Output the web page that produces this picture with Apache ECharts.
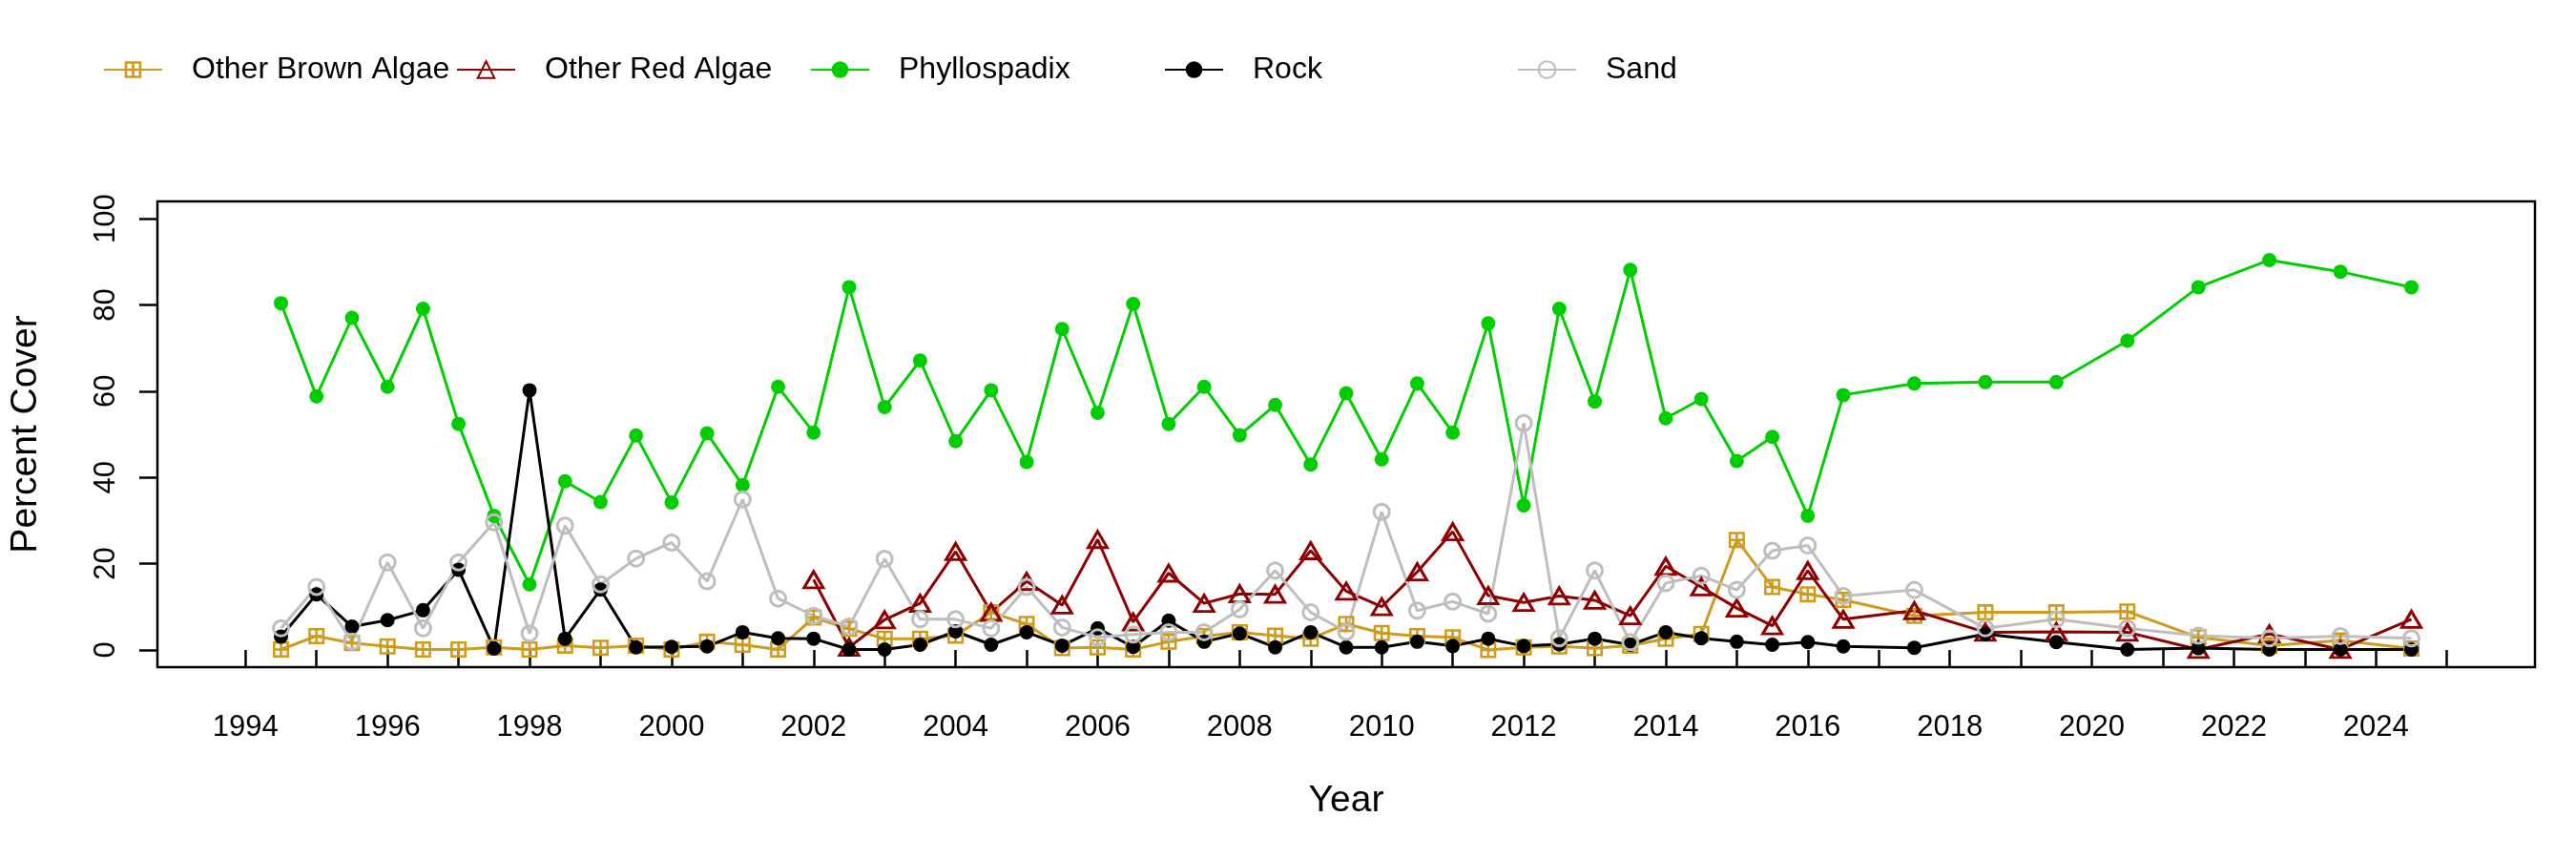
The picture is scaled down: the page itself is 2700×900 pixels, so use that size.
<!DOCTYPE html>
<html>
<head>
<meta charset="utf-8">
<script src="https://cdn.jsdelivr.net/npm/echarts@6/dist/echarts.min.js"></script>
<style>
  html, body { margin: 0; padding: 0; background: #fff; }
  #chart { width: 2700px; height: 900px; }
</style>
</head>
<body>
<div id="chart"></div>
<script>
// survey years (half-yearly to 2016.5, then yearly)
const years = [1994.5, 1995, 1995.5, 1996, 1996.5, 1997, 1997.5, 1998, 1998.5, 1999, 1999.5,
  2000, 2000.5, 2001, 2001.5, 2002, 2002.5, 2003, 2003.5, 2004, 2004.5, 2005, 2005.5, 2006, 2006.5,
  2007, 2007.5, 2008, 2008.5, 2009, 2009.5, 2010, 2010.5, 2011, 2011.5, 2012, 2012.5, 2013,
  2013.5, 2014, 2014.5, 2015, 2015.5, 2016, 2016.5, 2017.5, 2018.5, 2019.5, 2020.5, 2021.5, 2022.5, 2023.5, 2024.5];

const brownAlgae = [0.1, 3.2, 1.6, 0.8, 0.1, 0.1, 0.6, 0.1, 1.0, 0.5, 1.0,
  0.1, 1.9, 1.2, 0.1, 7.5, 4.9, 2.6, 2.6, 3.3, 8.7, 6.0, 0.4, 0.6, 0.1,
  1.9, 3.2, 4.1, 3.3, 2.6, 6.0, 3.9, 3.2, 2.9, 0.0, 0.6, 0.8, 0.4,
  1.0, 2.6, 3.7, 25.5, 14.6, 12.9, 11.6, 7.9, 8.7, 8.7, 8.9, 2.9, 1.0, 2.2, 0.3];

const redAlgae = [null, null, null, null, null, null, null, null, null, null, null,
  null, null, null, null, 16.3, 0.6, 7.0, 10.8, 22.8, 8.7, 15.9, 10.4, 25.6, 6.5,
  17.8, 10.8, 13.0, 12.9, 23.0, 13.6, 10.0, 18.1, 27.4, 12.6, 11.0, 12.5, 11.5,
  7.9, 19.4, 14.6, 9.7, 5.6, 18.4, 7.1, 9.1, 4.1, 4.2, 4.1, 0.1, 3.7, 0.1, 7.1];

const phyllospadix = [80.4, 58.8, 77.0, 61.0, 79.1, 52.4, 31.1, 15.2, 39.1, 34.3, 49.7,
  34.2, 50.2, 38.2, 61.0, 50.4, 84.1, 56.3, 67.1, 48.4, 60.2, 43.6, 74.4, 55.0, 80.2,
  52.4, 61.0, 49.8, 56.8, 43.0, 59.5, 44.2, 61.8, 50.4, 75.7, 33.5, 79.1, 57.6,
  88.1, 53.7, 58.2, 43.8, 49.4, 31.1, 59.1, 61.8, 62.1, 62.1, 71.7, 84.1, 90.4, 87.7, 84.1];

const rock = [3.1, 12.9, 5.4, 6.9, 9.2, 18.6, 0.3, 60.2, 2.6, 14.0, 0.6,
  0.7, 0.8, 4.1, 2.7, 2.6, 0.1, 0.1, 1.2, 4.3, 1.2, 4.1, 1.0, 5.0, 0.7,
  6.8, 1.9, 3.8, 0.6, 4.1, 0.6, 0.6, 1.9, 0.9, 2.6, 0.9, 1.3, 2.6,
  1.2, 4.1, 2.7, 1.9, 1.2, 1.8, 0.8, 0.5, 3.7, 1.8, 0.1, 0.4, 0.1, 0.1, 0.1];

const sand = [5.0, 14.6, 1.9, 20.3, 5.0, 20.3, 29.6, 3.8, 28.8, 15.2, 21.2,
  24.9, 15.9, 34.9, 11.9, 7.9, 5.4, 21.1, 7.1, 7.1, 5.0, 14.6, 5.2, 2.9, 3.6,
  4.1, 4.1, 9.4, 18.4, 8.7, 4.2, 32.0, 9.1, 11.2, 8.4, 52.6, 2.7, 18.4,
  1.8, 15.5, 17.2, 13.9, 23.0, 24.2, 12.5, 13.9, 5.0, 7.1, 5.0, 3.3, 2.7, 3.2, 2.7];

// axis ticks / labels
const xTicks = [1994, 1995, 1996, 1997, 1998, 1999, 2000, 2001, 2002, 2003, 2004, 2005, 2006, 2007, 2008, 2009,
  2010, 2011, 2012, 2013, 2014, 2015, 2016, 2017, 2018, 2019, 2020, 2021, 2022, 2023, 2024, 2025];
const xLabels = [1994, 1996, 1998, 2000, 2002, 2004, 2006, 2008, 2010, 2012, 2014, 2016, 2018, 2020, 2022, 2024];
const yTicks = [0, 20, 40, 60, 80, 100];

const FONT = "'Liberation Sans', Arial, sans-serif";
// square with a plus inside (R pch 12)
const squarePlus = "path://M0,0H20V3H0Z M0,17H20V20H0Z M0,0H3V20H0Z M17,0H20V20H17Z M8.5,0H11.5V20H8.5Z M0,8.5H20V11.5H0Z";

function pairs(vals) {
  const out = [];
  years.forEach((y, i) => {
    if (vals[i] !== null) out.push([y, vals[i]]);
  });
  return out;
}

const chart = echarts.init(document.getElementById("chart"));

const names = ["Other Brown Algae", "Other Red Algae", "Phyllospadix", "Rock", "Sand"];
const legendLeft = [108, 478, 849, 1220, 1590];

const option = {
  animation: false,
  backgroundColor: "#fff",
  textStyle: { fontFamily: FONT },
  legend: names.map((n, i) => ({
    data: [n],
    left: legendLeft[i],
    top: 57,
    padding: 0,
    itemWidth: 61,
    itemHeight: 22,
    selectedMode: false,
    textStyle: { fontSize: 32, color: "#000", fontFamily: FONT, padding: [0, 0, 0, 26] }
  })),
  grid: {
    left: 162, right: 43, top: 211, bottom: 201,
    show: true, borderColor: "#000", borderWidth: 2.5, backgroundColor: "transparent"
  },
  xAxis: {
    type: "value",
    min: 1992.76,
    max: 2026.24,
    name: "Year",
    nameLocation: "middle",
    nameGap: 121,
    nameTextStyle: { fontSize: 39, color: "#000", fontFamily: FONT },
    axisLine: { show: false },
    splitLine: { show: false },
    axisTick: { show: true, length: 19, customValues: xTicks, lineStyle: { color: "#000", width: 2.5 } },
    axisLabel: {
      customValues: xLabels, fontSize: 31, color: "#000", margin: 48, fontFamily: FONT,
      formatter: v => String(v)
    }
  },
  yAxis: {
    type: "value",
    min: -4,
    max: 104,
    name: "Percent Cover",
    nameLocation: "middle",
    nameGap: 118,
    nameTextStyle: { fontSize: 39, color: "#000", fontFamily: FONT },
    axisLine: { show: false },
    splitLine: { show: false },
    axisTick: { show: true, length: 19, customValues: yTicks, lineStyle: { color: "#000", width: 2.5 } },
    axisLabel: {
      customValues: yTicks, rotate: 90, fontSize: 31, color: "#000", margin: 38, fontFamily: FONT,
      formatter: v => String(v)
    }
  },
  series: [
    {
      name: "Other Brown Algae", type: "line", data: pairs(brownAlgae),
      symbol: squarePlus, symbolSize: 17,
      itemStyle: { color: "#CD9B1D" },
      lineStyle: { color: "#CD9B1D", width: 3 }
    },
    {
      name: "Other Red Algae", type: "line", data: pairs(redAlgae),
      symbol: "triangle", symbolSize: [20, 17],
      itemStyle: { color: "rgba(0,0,0,0)", borderColor: "#8B0000", borderWidth: 3 },
      lineStyle: { color: "#8B0000", width: 3 }
    },
    {
      name: "Phyllospadix", type: "line", data: pairs(phyllospadix),
      symbol: "circle", symbolSize: 15,
      itemStyle: { color: "#00CD00" },
      lineStyle: { color: "#00CD00", width: 3 }
    },
    {
      name: "Rock", type: "line", data: pairs(rock),
      symbol: "circle", symbolSize: 15,
      itemStyle: { color: "#000" },
      lineStyle: { color: "#000", width: 3 }
    },
    {
      name: "Sand", type: "line", data: pairs(sand),
      symbol: "circle", symbolSize: 16,
      itemStyle: { color: "rgba(0,0,0,0)", borderColor: "#BEBEBE", borderWidth: 3 },
      lineStyle: { color: "#BEBEBE", width: 3 }
    }
  ]
};

chart.setOption(option);
</script>
</body>
</html>
